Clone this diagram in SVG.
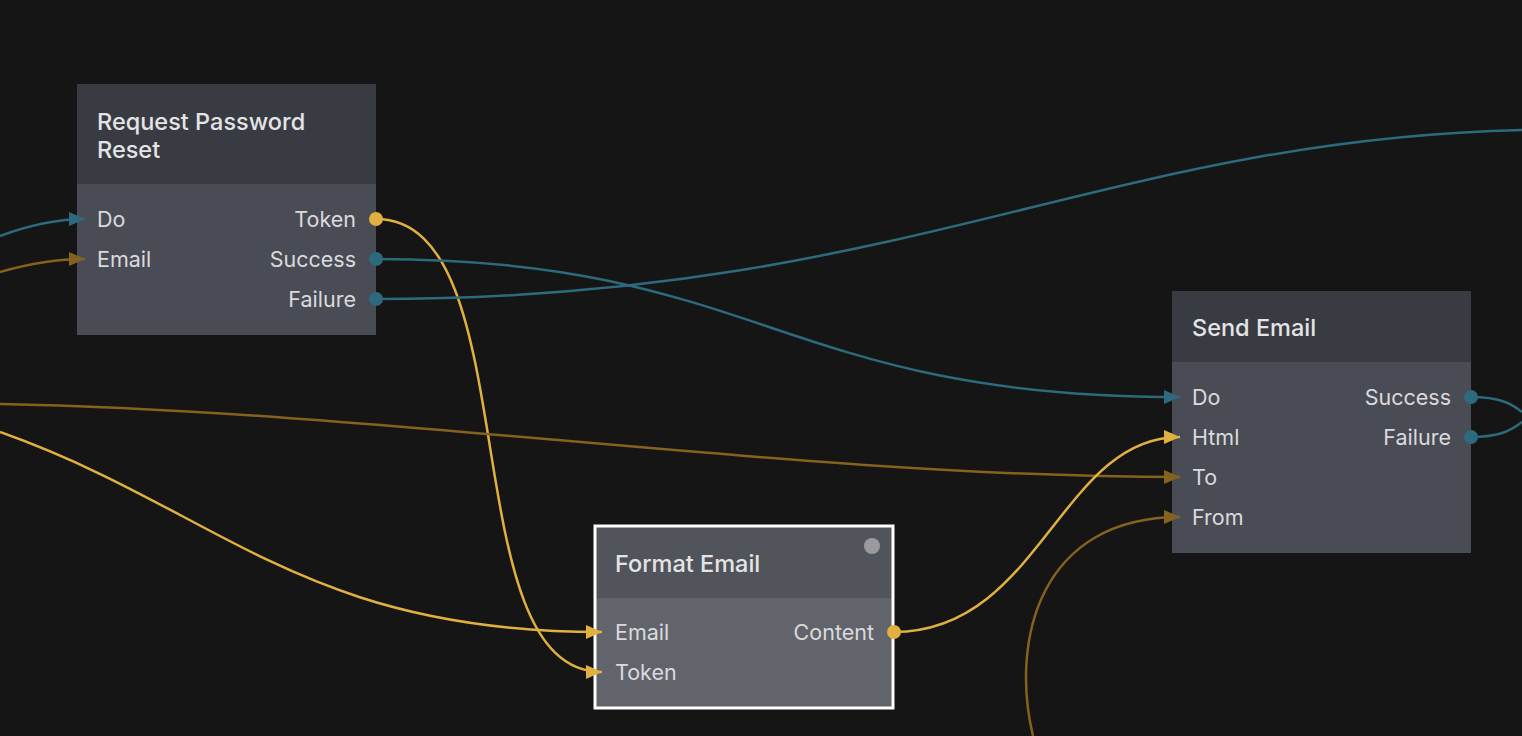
<svg xmlns="http://www.w3.org/2000/svg" width="1522" height="736" viewBox="0 0 1522 736">
<defs>
<marker id="aT" markerWidth="16" markerHeight="14" refX="16" refY="7" orient="auto" markerUnits="userSpaceOnUse"><path d="M0,0 L16,7 L0,14 z" fill="#2d6a7e"/></marker>
<marker id="aY" markerWidth="16" markerHeight="14" refX="16" refY="7" orient="auto" markerUnits="userSpaceOnUse"><path d="M0,0 L16,7 L0,14 z" fill="#e0b040"/></marker>
<marker id="aD" markerWidth="16" markerHeight="14" refX="16" refY="7" orient="auto" markerUnits="userSpaceOnUse"><path d="M0,0 L16,7 L0,14 z" fill="#86621f"/></marker>
</defs>
<style>
.t{font-family:Inter,"Noto Sans",sans-serif;font-size:23.5px;font-weight:500;fill:#e4e4e6}
.p{font-family:Inter,"Noto Sans",sans-serif;font-size:21.5px;fill:#dadadd}
.r{text-anchor:end}
.c{fill:none;stroke-width:2.5}
.teal{stroke:#2d6a7e}
.yel{stroke:#e0b040}
.dk{stroke:#86621f}
.dT{fill:#2d6a7e}
.dY{fill:#e0b040}
</style>
<rect width="1522" height="736" fill="#151515"/>
<g id="node-request-password-reset">
<rect x="77" y="84" width="299" height="100" fill="#393b43"/>
<rect x="77" y="184" width="299" height="151" fill="#4a4c55"/>
<text class="t" x="97" y="130">Request Password</text>
<text class="t" x="97" y="158">Reset</text>
<text class="p" x="97" y="227">Do</text>
<text class="p" x="97" y="267">Email</text>
<text class="p r" x="356" y="227">Token</text>
<text class="p r" x="356" y="267">Success</text>
<text class="p r" x="356" y="307">Failure</text>
</g>
<g id="node-send-email">
<rect x="1172" y="291" width="299" height="71" fill="#393b43"/>
<rect x="1172" y="362" width="299" height="191" fill="#4a4c55"/>
<text class="t" x="1192" y="336">Send Email</text>
<text class="p" x="1192" y="405">Do</text>
<text class="p" x="1192" y="445">Html</text>
<text class="p" x="1192" y="485">To</text>
<text class="p" x="1192" y="525">From</text>
<text class="p r" x="1451" y="405">Success</text>
<text class="p r" x="1451" y="445">Failure</text>
</g>
<g id="node-format-email">
<rect x="595" y="526" width="298" height="72" fill="#52545c"/>
<rect x="595" y="598" width="298" height="110" fill="#62646c"/>
<rect x="595" y="526" width="298" height="182" fill="none" stroke="#ffffff" stroke-width="3"/>
<circle cx="872" cy="546" r="8" fill="#9a9a9e"/>
<text class="t" x="615" y="572">Format Email</text>
<text class="p" x="615" y="640">Email</text>
<text class="p" x="615" y="680">Token</text>
<text class="p r" x="874" y="640">Content</text>
</g>
<g id="connectors">
<path class="c teal" d="M0,236 C35,223 60,219 85,219" marker-end="url(#aT)"/>
<path class="c dk" d="M0,272 C35,262 60,259 85,259" marker-end="url(#aD)"/>
<path class="c yel" d="M376,219 C530,219 450,672 602,672" marker-end="url(#aY)"/>
<path class="c teal" d="M376,259 C760,259 780,397 1180,397" marker-end="url(#aT)"/>
<path class="c teal" d="M376,299 C900,299 1100,140 1522,130"/>
<path class="c dk" d="M0,404 C400,412 800,477 1180,477" marker-end="url(#aD)"/>
<path class="c yel" d="M0,432 C220,510 300,632 602,632" marker-end="url(#aY)"/>
<path class="c yel" d="M894,632 C1040,632 1060,437 1180,437" marker-end="url(#aY)"/>
<path class="c dk" d="M1033,736 C1010,640 1040,517 1180,517" marker-end="url(#aD)"/>
<path class="c teal" d="M1471,397 C1500,397 1512,404 1522,412"/>
<path class="c teal" d="M1471,437 C1500,437 1512,430 1522,422"/>
<circle class="dY" cx="376" cy="219" r="7"/>
<circle class="dT" cx="376" cy="259" r="7"/>
<circle class="dT" cx="376" cy="299" r="7"/>
<circle class="dT" cx="1471" cy="397" r="7"/>
<circle class="dT" cx="1471" cy="437" r="7"/>
<circle class="dY" cx="894" cy="632" r="7"/>
</g>
</svg>
